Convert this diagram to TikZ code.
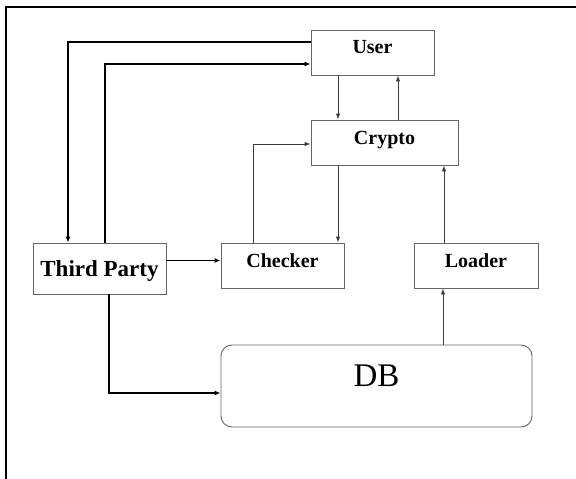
\documentclass[tikz,border=0pt]{standalone}
\usepackage{fontspec}
\setmainfont{Liberation Serif}
\usetikzlibrary{arrows.meta, positioning, calc}
\definecolor{boxgray}{RGB}{100, 100, 100}
\definecolor{linegray}{RGB}{60, 60, 60}
\tikzset{
  unit/.style={rectangle, draw=boxgray, fill=white, line width=0.9pt, inner sep=0pt, text height=13.5pt, font=\bfseries\fontsize{20}{24}\selectfont},
  store/.style={rectangle, rounded corners=11pt, draw=boxgray, fill=white, line width=0.9pt, inner sep=0pt, text height=22pt, font=\fontsize{33}{38}\selectfont},
  flow/.style={draw=linegray, line width=0.9pt, -{Latex[length=6pt, width=4.5pt]}},
  mainflow/.style={draw=black, line width=1.6pt, -{Latex[length=6pt, width=5pt]}}
}
\begin{document}
\begin{tikzpicture}[x=1pt, y=-1pt]
    \useasboundingbox (0,0) rectangle (576,479);
    % outer frame
    \draw[line width=2pt] (6,479) -- (6,7) -- (576,7);
    % Components
    \node[unit, minimum width=123pt, minimum height=45pt, text depth=11pt] (user) at (372.5, 52.5) {User};
    \node[unit, minimum width=147pt, minimum height=45pt, text depth=10pt] (crypto) at (384.5, 142.5) {Crypto};
    \node[unit, minimum width=133pt, minimum height=51pt, text height=15.5pt, text depth=0pt, font=\bfseries\fontsize{23}{27}\selectfont] (tp) at (99.5, 268.5) {Third Party};
    \node[unit, minimum width=123pt, minimum height=45pt, text depth=10pt] (checker) at (282.5, 265.5) {Checker};
    \node[unit, minimum width=124pt, minimum height=45pt, text depth=10pt] (loader) at (476, 265.5) {Loader};
    \node[store, minimum width=311pt, minimum height=82pt, text depth=22pt] (db) at (376.5, 386) {DB};
    % Third Party <-> User
    \draw[mainflow] ([yshift=10.5pt]user.west) -| ([xshift=-31.5pt]tp.north);
    \draw[mainflow] ([xshift=5.5pt]tp.north) |- ([yshift=-11.5pt]user.west);
    % User <-> Crypto
    \draw[flow] ([xshift=-34.5pt]user.south) -- ([xshift=-34.5pt]user.south |- crypto.north);
    \draw[flow] ([xshift=25.5pt]user.south |- crypto.north) -- ([xshift=25.5pt]user.south);
    % Checker <-> Crypto
    \draw[flow] ([xshift=-29.5pt]checker.north) |- ([yshift=-1.5pt]crypto.west);
    \draw[flow] ([xshift=55.5pt]checker.north |- crypto.south) -- ([xshift=55.5pt]checker.north);
    % Loader -> Crypto
    \draw[flow] ([xshift=-32pt]loader.north) -- ([xshift=-32pt]loader.north |- crypto.south);
    % Third Party -> Checker, DB
    \draw[mainflow] ([yshift=8pt]tp.east) -- ([yshift=8pt]tp.east -| checker.west);
    \draw[mainflow] ([xshift=9.5pt]tp.south) |- ([yshift=-7pt]db.west);
    % DB -> Loader
    \draw[flow] ([xshift=-33pt]loader.south |- db.north) -- ([xshift=-33pt]loader.south);
\end{tikzpicture}
\end{document}
